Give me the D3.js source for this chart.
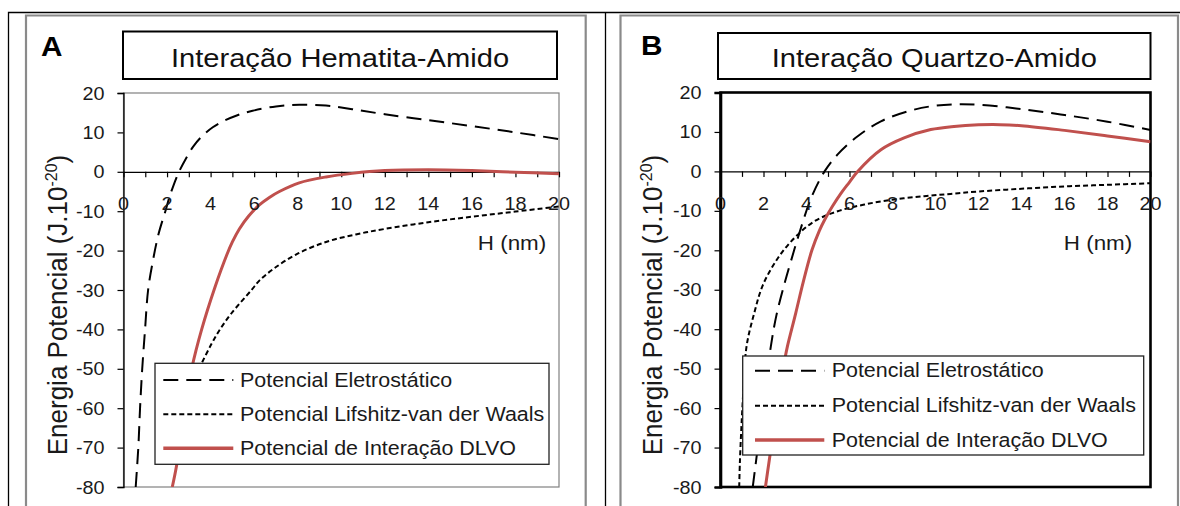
<!DOCTYPE html>
<html>
<head>
<meta charset="utf-8">
<script src="https://cdn.jsdelivr.net/npm/d3@7"></script>
<style>
  html, body { margin: 0; padding: 0; background: #fff; }
  svg { display: block; }
  text { font-family: "Liberation Sans", Arial, sans-serif; fill: #1a1a1a; }
</style>
</head>
<body>
<svg id="chart" width="1180" height="506"></svg>
<script>
// ---- data: potential energy (J.10^-20) versus separation H (nm) ----
const panelLetters = ["A", "B"];
const panelTitles = ["Interação Hematita-Amido", "Interação Quartzo-Amido"];
const seriesNames = ["Potencial Eletrostático", "Potencial Lifshitz-van der Waals", "Potencial de Interação DLVO"];
const xTicks = [0, 2, 4, 6, 8, 10, 12, 14, 16, 18, 20];
const yTicks = [20, 10, 0, -10, -20, -30, -40, -50, -60, -70, -80];
const xTitle = "H (nm)";
const yTitle = "Energia Potencial (J.10";
const yTitleExp = "-20";

// Hematita-Amido
const hematitaEletrostatico = [[0.56,-80],[0.68,-70],[0.76,-60],[0.86,-50],[0.99,-40],[1.13,-30],[1.35,-22.6],[1.6,-16],[1.95,-9.5],[2.1,-6.6],[2.26,-4],[2.55,0],[2.87,3.4],[3.2,6.4],[3.6,9.0],[4.1,11.3],[4.6,12.9],[5.2,14.3],[5.93,15.5],[7.0,16.6],[8.07,17.0],[9.3,16.8],[10.5,15.9],[12,14.6],[14,13.1],[16,11.6],[18,10.0],[20,8.3]];
const hematitaLifshitz = [[3.3,-52],[3.59,-48.6],[4.05,-43.6],[4.43,-40],[4.96,-35.9],[5.88,-30],[6.26,-27.5],[6.9,-24.6],[7.92,-21],[9.3,-17.8],[10.67,-15.9],[12,-14.5],[14,-12.8],[16,-11.4],[18,-10.1],[20,-8.8]];
const hematitaDLVO = [[2.24,-80],[2.44,-74.5],[2.7,-64],[2.9,-57],[3.13,-50],[3.59,-40],[4.2,-29.3],[4.75,-21],[5.0,-17.8],[5.32,-14.5],[5.75,-11.2],[6.24,-8.4],[6.7,-6.5],[7.16,-5.0],[8.07,-2.8],[9.3,-1.3],[10.5,-0.4],[12,0.3],[14,0.5],[16,0.3],[18,-0.1],[20,-0.5]];

// Quartzo-Amido
const quartzoEletrostatico = [[1.5,-80],[1.64,-74],[1.85,-65],[2.05,-56.5],[2.34,-44.4],[2.6,-36.5],[3.0,-28],[3.37,-21],[3.6,-16.8],[4.22,-6.7],[4.84,0],[5.45,4.3],[6.38,8.9],[7.46,12.7],[8.7,15.2],[9.78,16.5],[10.86,17.0],[12,16.9],[14,15.8],[16,14.3],[18,12.6],[20,10.5]];
const quartzoLifshitz = [[0.87,-80],[0.9,-74],[0.97,-65],[1.07,-55],[1.21,-44.4],[1.57,-35.9],[1.98,-28.7],[2.68,-21.9],[3.45,-16.8],[4.38,-12.6],[5.45,-10.1],[6.69,-8.4],[8.08,-7.1],[9.47,-6.3],[10.7,-5.7],[12,-5.1],[14,-4.4],[16,-3.8],[18,-3.4],[20,-3.0]];
const quartzoDLVO = [[2.09,-80],[2.25,-73.9],[2.5,-64.5],[2.75,-55.5],[3.02,-46.8],[3.11,-44.4],[3.5,-35.9],[3.85,-28],[4.25,-20],[4.6,-15],[4.84,-12.3],[5.2,-8.9],[5.61,-5.5],[6.0,-2.7],[6.38,0],[7.46,5.5],[8.54,8.5],[9.78,10.6],[10.86,11.4],[12,11.8],[13,11.85],[14,11.6],[16,10.4],[18,9.0],[20,7.5]];

const panelSeries = [
  [hematitaEletrostatico, hematitaLifshitz, hematitaDLVO],
  [quartzoEletrostatico, quartzoLifshitz, quartzoDLVO]
];

// ---- styles ----
const SX = 1.1;               // horizontal text stretch
const RED = "#C0504D";
const seriesStyle = [
  { stroke: "#000", width: 2, dash: "15,8" },
  { stroke: "#000", width: 2, dash: "5,3" },
  { stroke: RED,    width: 3, dash: null }
];

// ---- layout ----
const layout = [
  { x0: 123.5, x1: 559, y0: 93, y1: 487, frame: [26, 585.7], titleBox: [123, 31.5, 557, 79],
    letter: [41, 56], yTitleX: 67, xTitleX: 512, bold: false,
    legend: { x: 155, y: 363.3, w: 394, h: 101, s0: 163.3, s1: 233.3, tx: 240, rows: [380, 414.3, 448.3] } },
  { x0: 720.5, x1: 1150.5, y0: 92.5, y1: 487, frame: [620.5, 1178], titleBox: [718, 33, 1150.5, 79],
    letter: [641, 55], yTitleX: 662, xTitleX: 1098, bold: true,
    legend: { x: 742.7, y: 356, w: 401, h: 99, s0: 755, s1: 824.3, tx: 831.7, rows: [370.7, 405.7, 440] } }
];

const svg = d3.select("#chart");

function addText(parent, x, y, str, size, anchor, sx) {
  return parent.append("text")
    .attr("transform", `translate(${x},${y}) scale(${sx == null ? SX : sx},1)`)
    .attr("font-size", size)
    .attr("text-anchor", anchor || "start")
    .text(str);
}

// outer table lines
svg.append("path").attr("d", "M8.5,506V12.5H1180").attr("fill", "none").attr("stroke", "#000").attr("stroke-width", 1.3);
svg.append("path").attr("d", "M605.5,12.5V506").attr("fill", "none").attr("stroke", "#000").attr("stroke-width", 1.3);

layout.forEach((L, i) => {
  const g = svg.append("g");

  // panel frame (open at the bottom)
  g.append("path")
    .attr("d", `M${L.frame[0]},506V15.5H${L.frame[1]}V506`)
    .attr("fill", "none").attr("stroke", "#8a8a8a").attr("stroke-width", 2.2);

  const x = d3.scaleLinear().domain([0, 20]).range([L.x0, L.x1]);
  const y = d3.scaleLinear().domain([-80, 20]).range([L.y1, L.y0]);

  // panel letter
  addText(g, L.letter[0], L.letter[1], panelLetters[i], 27, "start")
    .attr("font-weight", "bold").style("fill", "#000");

  // title box
  const tb = L.titleBox;
  g.append("rect").attr("x", tb[0]).attr("y", tb[1]).attr("width", tb[2] - tb[0]).attr("height", tb[3] - tb[1])
    .attr("fill", "#fff").attr("stroke", "#000").attr("stroke-width", 2);
  addText(g, (tb[0] + tb[2]) / 2, 66.5, panelTitles[i], 26, "middle", 1.12).style("fill", "#111");

  // plot area frame
  g.append("rect").attr("x", L.x0).attr("y", L.y0).attr("width", L.x1 - L.x0).attr("height", L.y1 - L.y0)
    .attr("fill", "none")
    .attr("stroke", L.bold ? "#000" : "#808080")
    .attr("stroke-width", L.bold ? 2.6 : 1.2);

  // y axis
  const yAxis = d3.axisLeft(y).tickValues(yTicks).tickSize(6).tickFormat("");
  const ya = g.append("g").attr("transform", `translate(${L.x0},0)`).call(yAxis);
  ya.select(".domain").attr("stroke", "#000").attr("stroke-width", L.bold ? 2.6 : 1.3);
  ya.selectAll(".tick line").attr("stroke", "#000").attr("stroke-width", 1.2);
  yTicks.forEach(v => addText(g, L.x0 - 19, y(v) + 6.5, String(v), 18, "end", 1.1));

  // x axis along zero, minor ticks every 1 nm
  const xAxis = d3.axisBottom(x).tickValues(d3.range(0, 21, 1)).tickSize(5.5).tickSizeOuter(0).tickFormat("");
  const xa = g.append("g").attr("transform", `translate(0,${y(0)})`).call(xAxis);
  xa.select(".domain").attr("stroke", "#000").attr("stroke-width", 1.3);
  xa.selectAll(".tick line").attr("stroke", "#000").attr("stroke-width", 1.2);

  // curves
  const clipId = "clip" + i;
  g.append("clipPath").attr("id", clipId).append("rect")
    .attr("x", L.x0).attr("y", L.y0).attr("width", L.x1 - L.x0).attr("height", L.y1 - L.y0);
  const line = d3.line().x(d => x(d[0])).y(d => y(d[1])).curve(d3.curveCatmullRom.alpha(0.5));
  const cg = g.append("g").attr("clip-path", `url(#${clipId})`);
  panelSeries[i].forEach((s, k) => {
    const st = seriesStyle[k];
    cg.append("path").datum(s).attr("d", line)
      .attr("fill", "none").attr("stroke", st.stroke).attr("stroke-width", st.width)
      .attr("stroke-dasharray", st.dash).attr("stroke-linejoin", "round");
  });

  // x tick labels
  xTicks.forEach(v => addText(g, x(v), y(0) + 38.5, String(v), 18, "middle", 1.1));

  // axis titles
  addText(g, L.xTitleX, 250, xTitle, 20, "middle", 1.12);
  const yt = g.append("text")
    .attr("transform", `translate(${L.yTitleX},305) scale(1.05,1) rotate(-90)`)
    .attr("font-size", 26).attr("text-anchor", "middle");
  yt.append("tspan").text(yTitle);
  yt.append("tspan").attr("font-size", 16).attr("dy", -10).text(yTitleExp);
  yt.append("tspan").attr("dy", 10).text(")");

  // legend
  const lg = L.legend;
  g.append("rect").attr("x", lg.x).attr("y", lg.y).attr("width", lg.w).attr("height", lg.h)
    .attr("fill", "#fff").attr("stroke", "#222").attr("stroke-width", 1.3);
  seriesNames.forEach((name, k) => {
    const st = seriesStyle[k];
    const ry = lg.rows[k];
    g.append("line").attr("x1", lg.s0).attr("x2", lg.s1).attr("y1", ry).attr("y2", ry)
      .attr("stroke", st.stroke).attr("stroke-width", k === 2 ? 3.5 : st.width)
      .attr("stroke-dasharray", st.dash);
    addText(g, lg.tx, ry + 6.5, name, 19.5, "start", 1.1);
  });
});
</script>
</body>
</html>
